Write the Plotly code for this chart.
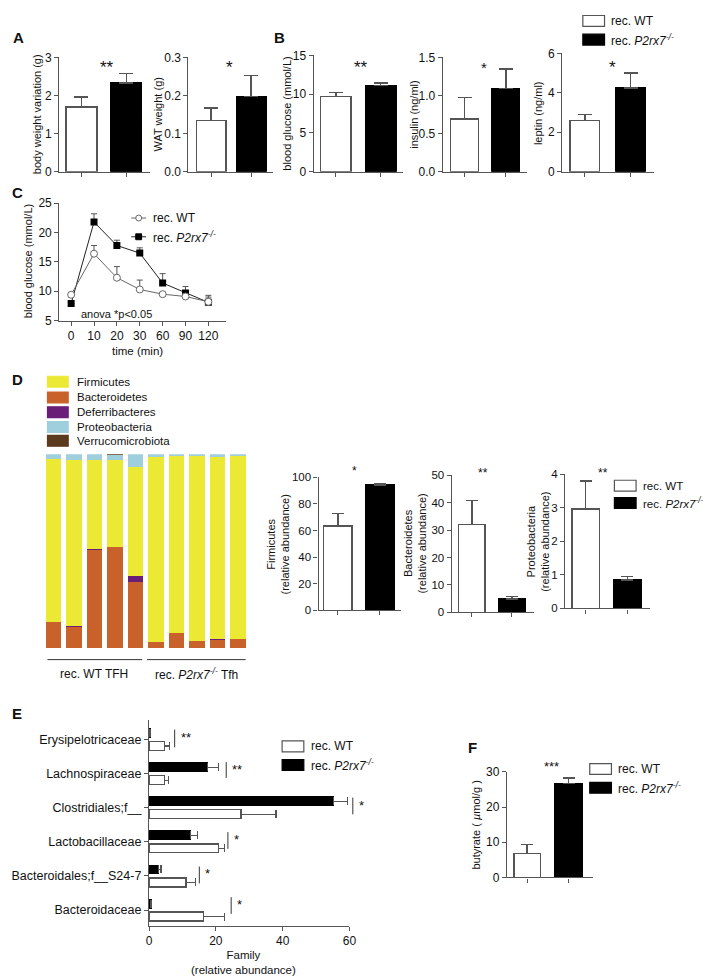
import plotly.graph_objects as go

W, H = 711, 976
FONT = "Liberation Sans, Arial, Helvetica, sans-serif"
AX = "#555555"
TXT = "#111111"

# ---------------- data ----------------
groups = ["rec. WT", "rec. P2rx7-/-"]
bw_var = [1.70, 2.33]
bw_var_err = [0.26, 0.25]
wat = [0.135, 0.198]
wat_err = [0.032, 0.055]
glucose = [9.7, 11.1]
glucose_err = [0.55, 0.35]
insulin = [0.69, 1.09]
insulin_err = [0.28, 0.26]
leptin = [2.60, 4.25]
leptin_err = [0.30, 0.75]

gtt_time = ["0", "10", "20", "30", "60", "90", "120"]
gtt_wt = [9.4, 16.4, 12.3, 10.3, 9.5, 9.1, 8.2]
gtt_wt_err = [0.3, 1.4, 1.9, 1.6, 0.3, 0.5, 1.1]
gtt_ko = [7.9, 21.8, 17.8, 16.5, 11.4, 9.7, 8.1]
gtt_ko_err = [0.4, 1.4, 0.9, 0.9, 1.6, 1.1, 0.9]

phyla = ["Bacteroidetes", "Deferribacteres", "Firmicutes", "Proteobacteria", "Verrucomicrobiota"]
legend_phyla = ["Firmicutes", "Bacteroidetes", "Deferribacteres", "Proteobacteria", "Verrucomicrobiota"]
phyla_colors = {"Firmicutes": "#ECE935", "Bacteroidetes": "#C9622A", "Deferribacteres": "#6B1E78",
                "Proteobacteria": "#9FCFDC", "Verrucomicrobiota": "#5B3A1E"}
samples = ["WT1", "WT2", "WT3", "WT4", "WT5", "KO1", "KO2", "KO3", "KO4", "KO5"]
firmicutes_pct = [84.1, 85.8, 46.0, 45.0, 56.0, 95.5, 91.0, 95.3, 94.0, 94.2]
bacteroidetes_pct = [13.7, 11.0, 50.6, 52.3, 34.2, 3.2, 8.0, 3.9, 4.5, 4.8]
deferri_pct = [0.0, 0.5, 0.7, 0.0, 3.0, 0.0, 0.0, 0.0, 0.3, 0.0]
proteo_pct = [2.2, 2.7, 2.7, 2.2, 6.8, 1.3, 1.0, 0.8, 1.2, 1.0]
verruco_pct = [0.0, 0.0, 0.0, 0.5, 0.0, 0.0, 0.0, 0.0, 0.0, 0.0]
phyla_pct = {"Firmicutes": firmicutes_pct, "Bacteroidetes": bacteroidetes_pct,
             "Deferribacteres": deferri_pct, "Proteobacteria": proteo_pct,
             "Verrucomicrobiota": verruco_pct}

firm_rel = [63.5, 94.3]
firm_err = [9.1, 1.0]
bact_rel = [32.1, 4.8]
bact_err = [8.8, 0.9]
proteo_rel = [2.97, 0.85]
proteo_err = [0.83, 0.10]

families = ["Erysipelotricaceae", "Lachnospiraceae", "Clostridiales;f__", "Lactobacillaceae",
            "Bacteroidales;f__S24-7", "Bacteroidaceae"]
fam_wt = [4.6, 4.6, 27.5, 20.8, 11.1, 16.2]
fam_wt_err = [1.6, 1.3, 10.5, 1.7, 2.8, 6.3]
fam_ko = [0.3, 17.6, 55.1, 12.4, 2.9, 0.6]
fam_ko_err = [0.0, 3.3, 4.2, 2.0, 0.7, 0.1]
fam_sig = ["**", "**", "*", "*", "*", "*"]

butyrate = [6.8, 26.7]
butyrate_err = [2.5, 1.6]

# ---------------- helpers ----------------
fig = go.Figure()
layout = {}


def px(x):
    return x / W


def py(y):
    return 1 - y / H


def xd(a, b):
    return [a / W, b / W]


def yd(top, bottom):
    return [1 - bottom / H, 1 - top / H]


def ko_label(size, prefix="rec. ", suffix=""):
    sup = round(size * 0.72, 1)
    return (f'{prefix}<span style="font-style:italic;font-size:{size}px">P2rx7</span>'
            f'<span style="font-style:italic;font-size:{sup}px;baseline-shift:super">-/-</span>{suffix}')


def ann(text, x, y, size=12, xanchor="center", yanchor="middle", angle=0, weight="normal"):
    fig.add_annotation(text=text, x=px(x), y=py(y), xref="paper", yref="paper", showarrow=False,
                       xanchor=xanchor, yanchor=yanchor, textangle=angle,
                       font=dict(family=FONT, size=size, color=TXT, weight=weight))


def hline(x0, x1, y, color="#333", w=1):
    fig.add_shape(type="line", xref="paper", yref="paper", x0=px(x0), x1=px(x1), y0=py(y), y1=py(y),
                  line=dict(color=color, width=w))


def vline(x, y0, y1, color="#333", w=1):
    fig.add_shape(type="line", xref="paper", yref="paper", x0=px(x), x1=px(x), y0=py(y0), y1=py(y1),
                  line=dict(color=color, width=w))


def box(x0, x1, y0, y1, fill, line):
    fig.add_shape(type="rect", xref="paper", yref="paper", x0=px(x0), x1=px(x1), y0=py(y1), y1=py(y0),
                  fillcolor=fill, line=dict(color=line, width=1.2))


def legend_pair(x, y_wt, y_ko, size=12):
    box(x, x + 22, y_wt - 5.5, y_wt + 5.5, "white", AX)
    box(x, x + 22, y_ko - 5.5, y_ko + 5.5, "black", "black")
    ann("rec. WT", x + 27, y_wt, size=size, xanchor="left")
    ann(ko_label(size), x + 27, y_ko, size=size, xanchor="left")


def axis_common():
    return dict(showline=True, linecolor=AX, linewidth=1.3, ticks="outside", ticklen=4,
                tickcolor=AX, tickwidth=1.2, showgrid=False, zeroline=False, fixedrange=True,
                tickfont=dict(family=FONT, size=12, color=TXT))


def bar_panel(idx, vals, errs, L, R, c0, c1, wpx, top, bottom, yrange, dtick, tickfmt,
              cap=6, tsize=12):
    unit = c1 - c0
    xr = [(L - c0) / unit, (R - c0) / unit]
    width = wpx / unit
    xa, ya = f"x{idx}", f"y{idx}"
    for i, (v, e) in enumerate(zip(vals, errs)):
        fig.add_trace(go.Bar(
            x=[i], y=[v], width=width, name=groups[i],
            marker=dict(color="white" if i == 0 else "black",
                        line=dict(color=AX if i == 0 else "black", width=1.5)),
            error_y=dict(type="data", array=[e], arrayminus=[0], symmetric=False,
                         color=AX, thickness=1.4, width=cap),
            xaxis=xa, yaxis=ya, showlegend=False))
    xaxd = axis_common()
    xaxd.update(domain=xd(L, R), range=xr, anchor=ya, tickvals=list(range(len(vals))),
                showticklabels=False)
    yaxd = axis_common()
    yaxd.update(domain=yd(top, bottom), range=yrange, anchor=xa, tick0=0, dtick=dtick,
                tickformat=tickfmt)
    yaxd["tickfont"] = dict(family=FONT, size=tsize, color=TXT)
    layout[f"xaxis{idx}" if idx > 1 else "xaxis"] = xaxd
    layout[f"yaxis{idx}" if idx > 1 else "yaxis"] = yaxd


# ---------------- Panel A ----------------
bar_panel(1, bw_var, bw_var_err, 49, 141, 71.5, 117, 31, 43, 159, [0, 3], 1, "d", cap=7)
bar_panel(2, wat, wat_err, 180, 266, 203, 243.5, 30, 43, 159, [0, 0.3], 0.1, ".1f", cap=7)
ann("A", 8, 23, size=15, weight="bold")
ann("body weight variation (g)", 26, 101, size=11, angle=-90)
ann("WAT weight (g)", 149, 101, size=11, angle=-90)
ann("**", 97, 53, size=17)
ann("*", 222, 53, size=17)

# ---------------- Panel B ----------------
bar_panel(3, glucose, glucose_err, 307, 398, 329.5, 375, 31, 41, 159, [0, 15], 5, "d", cap=7)
bar_panel(4, insulin, insulin_err, 438, 523, 460, 502, 28, 43, 159, [0, 1.5], 0.5, ".1f", cap=7)
bar_panel(5, leptin, leptin_err, 559, 652, 582, 628.5, 30, 39, 159, [0, 6], 2, "d", cap=7)
ann("B", 272, 23, size=15, weight="bold")
ann("blood glucose (mmol/L)", 279, 100, size=11, angle=-90)
ann("insulin (ng/ml)", 408, 101, size=11, angle=-90)
ann("leptin (ng/ml)", 534, 99, size=11, angle=-90)
ann("**", 355, 53, size=17)
ann("*", 480, 53, size=15)
ann("*", 610, 53, size=17)
legend_pair(580, 6, 25)

# ---------------- Panel C ----------------
L, R, c0, unit = 49, 218, 61, 23.2
xs = list(range(len(gtt_time)))
fig.add_trace(go.Scatter(x=xs, y=gtt_ko, mode="lines+markers", xaxis="x6", yaxis="y6",
                         line=dict(color="#222", width=1),
                         marker=dict(symbol="square", size=7, color="black"),
                         error_y=dict(type="data", array=gtt_ko_err, arrayminus=[0] * 7,
                                      symmetric=False, color=AX, thickness=1, width=3),
                         showlegend=False))
fig.add_trace(go.Scatter(x=xs, y=gtt_wt, mode="lines+markers", xaxis="x6", yaxis="y6",
                         line=dict(color="#666", width=1),
                         marker=dict(symbol="circle", size=7, color="white",
                                     line=dict(color="#666", width=1)),
                         error_y=dict(type="data", array=gtt_wt_err, arrayminus=[0] * 7,
                                      symmetric=False, color=AX, thickness=1, width=3),
                         showlegend=False))
xa6 = axis_common()
xa6.update(domain=xd(L, R), range=[(L - c0) / unit, (R - c0) / unit], anchor="y6",
           tickvals=xs, ticktext=gtt_time)
ya6 = axis_common()
ya6.update(domain=yd(191, 310), range=[5, 25], anchor="x6", tick0=5, dtick=5)
layout["xaxis6"] = xa6
layout["yaxis6"] = ya6
ann("C", 7, 180, size=15, weight="bold")
ann("blood glucose (mmol/L)", 18, 250, size=11, angle=-90)
ann("time (min)", 128, 341, size=11.5)
ann("anova *p<0.05", 107, 303, size=11)
# legend C
hline(122, 137, 206, color="#666", w=1)
fig.add_shape(type="circle", xref="paper", yref="paper", x0=px(126.5), x1=px(132.5),
              y0=py(209), y1=py(203), fillcolor="white", line=dict(color="#666", width=1))
ann("rec. WT", 142, 206, size=12, xanchor="left")
hline(122, 137, 225, color="#222", w=1)
fig.add_shape(type="rect", xref="paper", yref="paper", x0=px(126.5), x1=px(132.5),
              y0=py(228), y1=py(222), fillcolor="black", line=dict(color="black", width=1))
ann(ko_label(12), 142, 225, size=12, xanchor="left")

# ---------------- Panel D (stacked) ----------------
L, R, c0, unit, wpx = 33, 240, 43, 20.8, 16
sx = list(range(len(samples)))
for ph in phyla:
    fig.add_trace(go.Bar(x=sx, y=phyla_pct[ph], width=wpx / unit, name=ph, xaxis="x7", yaxis="y7",
                         marker=dict(color=phyla_colors[ph], line=dict(width=0)), showlegend=False))
layout["xaxis7"] = dict(domain=xd(L, R), range=[(L - c0) / unit, (R - c0) / unit], anchor="y7",
                        visible=False, fixedrange=True)
layout["yaxis7"] = dict(domain=yd(445.7, 642.3), range=[0, 100], anchor="x7", visible=False,
                        fixedrange=True)
ann("D", 7, 370, size=15, weight="bold")
for i, ph in enumerate(legend_phyla):
    yy = [372, 388, 403, 418, 432][i]
    box(37, 58, yy - 5.5, yy + 5.5, phyla_colors[ph], phyla_colors[ph])
    ann(ph, 65, yy, size=11.5, xanchor="left")
hline(37, 133, 654)
hline(138, 238, 654)
ann("rec. WT TFH", 84, 669, size=12)
ann(ko_label(12, suffix=" Tfh"), 188, 669, size=12)

# ---------------- Panel D (bars) ----------------
bar_panel(8, firm_rel, firm_err, 312, 396, 331.5, 374, 29, 469, 604, [0, 100], 20, "d", cap=6, tsize=11.5)
bar_panel(9, bact_rel, bact_err, 447, 530, 467.5, 508, 27, 467, 606, [0, 50], 10, "d", cap=6, tsize=11.5)
bar_panel(10, proteo_rel, proteo_err, 562, 648, 583, 625, 28, 466, 602, [0, 4], 1, "d", cap=6, tsize=11.5)
ann("Firmicutes<br>(relative abundance)", 271, 537, size=11, angle=-90)
ann("Bacteroidetes<br>(relative abundance)", 410, 536, size=11, angle=-90)
ann("Proteobacteria<br>(relative abundance)", 535, 534, size=11, angle=-90)
ann("*", 348, 463, size=12)
ann("**", 479, 465, size=12)
ann("**", 600, 465, size=12)
legend_pair(612, 477.5, 495, size=11.5)

# ---------------- Panel E ----------------
n = len(families)
ypos = [n - 1 - i for i in range(n)]
off, bw = 0.19, 0.26
fig.add_trace(go.Bar(y=[p + off for p in ypos], x=fam_ko, orientation="h", width=bw, xaxis="x11",
                     yaxis="y11", marker=dict(color="black", line=dict(color="black", width=1)),
                     error_x=dict(type="data", array=fam_ko_err, arrayminus=[0] * n, symmetric=False,
                                  color=AX, thickness=1.2, width=4), showlegend=False))
fig.add_trace(go.Bar(y=[p - off for p in ypos], x=fam_wt, orientation="h", width=bw, xaxis="x11",
                     yaxis="y11", marker=dict(color="white", line=dict(color=AX, width=1.3)),
                     error_x=dict(type="data", array=fam_wt_err, arrayminus=[0] * n, symmetric=False,
                                  color=AX, thickness=1.2, width=4), showlegend=False))
xa11 = axis_common()
xa11.update(domain=xd(140, 343.3), range=[0, 60], anchor="y11", tick0=0, dtick=20)
ya11 = axis_common()
ya11.update(domain=yd(715, 924), range=[-0.46, 5.58], anchor="x11", tickvals=ypos, ticktext=families)
ya11["tickfont"] = dict(family=FONT, size=12.5, color=TXT)
layout["xaxis11"] = xa11
layout["yaxis11"] = ya11
ann("E", 6, 709, size=15, weight="bold")
ann("Family<br>(relative abundance)", 236, 961, size=11.5)
sig_geom = [(166, 725, 743), (218.3, 758, 774), (346.7, 794, 811), (220, 829, 846),
            (191, 864, 881), (223.3, 895, 912)]
for (sxp, y0, y1), s in zip(sig_geom, fam_sig):
    vline(sxp, y0, y1, color="#333", w=1)
    ann(s, sxp + 4, (y0 + y1) / 2 - 1, size=13, xanchor="left")
legend_pair(275, 742, 761)

# ---------------- Panel F ----------------
bar_panel(12, butyrate, butyrate_err, 503, 590, 523.5, 565.5, 27, 768, 875, [0, 30], 10, "d", cap=6)
ann("F", 468, 743, size=15, weight="bold")
ann('butyrate ( <span style="font-style:italic;font-size:11px">µ</span>mol/g )', 472, 821, size=11, angle=-90)
ann("***", 548, 762, size=13)
legend_pair(587, 765, 784)

layout.update(dict(width=W, height=H, margin=dict(l=0, r=0, t=0, b=0), paper_bgcolor="white",
                   plot_bgcolor="rgba(0,0,0,0)", barmode="stack", showlegend=False,
                   font=dict(family=FONT, size=12, color=TXT)))
fig.update_layout(**layout)
fig.write_html("out.html")
